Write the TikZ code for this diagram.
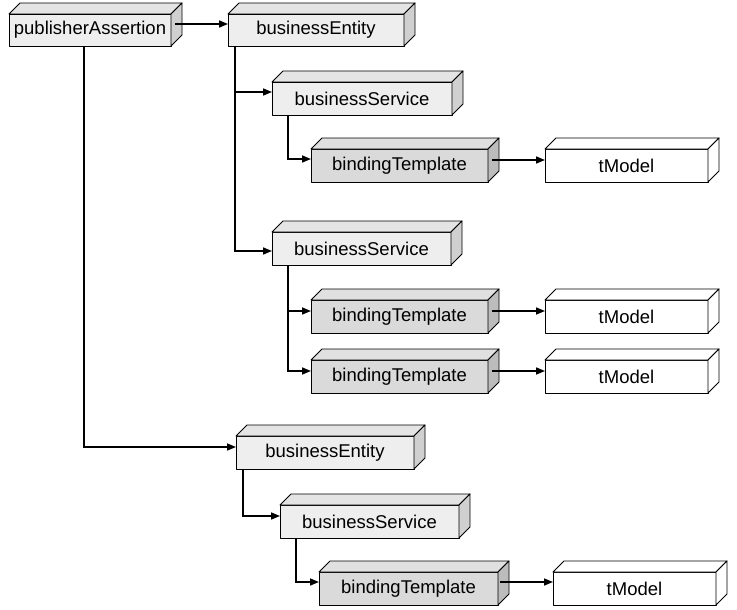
\documentclass[tikz,border=0pt]{standalone}
\usepackage{fontspec}
\setmainfont{Liberation Sans}
\usetikzlibrary{calc,arrows.meta}
\definecolor{lF}{HTML}{EEEEEE}
\definecolor{lT}{HTML}{E4E4E4}
\definecolor{lS}{HTML}{D0D0D0}
\definecolor{dF}{HTML}{DADADA}
\definecolor{dT}{HTML}{E0E0E0}
\definecolor{dS}{HTML}{BCBCBC}
\tikzset{
  box/.style={draw=black, line width=0.9pt, inner sep=0pt, outer sep=0pt,
    font=\fontsize{18.5}{20}\selectfont, line join=round},
  face/.style={draw=black, line width=0.9pt, line join=round},
  conn/.style={line width=1.6pt, -{Triangle[length=9pt,width=7pt]}}
}
\newcommand{\cub}[9]{%
  \node[box,fill=#6,minimum width=#4pt,minimum height=#5pt,anchor=north west] (#1) at (#2,#3) {#9};
  \filldraw[face,fill=#7] (#1.north west) -- ++(11,-11) -- ($(#1.north east)+(11,-11)$) -- (#1.north east) -- cycle;
  \filldraw[face,fill=#8] (#1.north east) -- ++(11,-11) -- ($(#1.south east)+(11,-11)$) -- (#1.south east) -- cycle;
}
\begin{document}
\begin{tikzpicture}[x=1pt,y=-1pt]
\useasboundingbox (0,0) rectangle (737,610);
\cub{pa}{9}{14}{162}{32}{lF}{lT}{lS}{publisherAssertion}
\cub{be1}{228}{14}{176}{32}{lF}{lT}{lS}{businessEntity}
\cub{bs1}{272}{82}{180}{33}{lF}{lT}{lS}{businessService}
\cub{bt1}{311}{149}{177}{33}{dF}{dT}{dS}{bindingTemplate}
\cub{tm1}{545}{149}{163}{33}{white}{white}{white}{tModel}
\cub{bs2}{272}{232}{179}{33}{lF}{lT}{lS}{businessService}
\cub{bt2}{311}{300}{177}{33}{dF}{dT}{dS}{bindingTemplate}
\cub{tm2}{545}{300}{163}{33}{white}{white}{white}{tModel}
\cub{bt3}{311}{360}{177}{33}{dF}{dT}{dS}{bindingTemplate}
\cub{tm3}{545}{360}{163}{33}{white}{white}{white}{tModel}
\cub{be2}{236}{436}{178}{33}{lF}{lT}{lS}{businessEntity}
\cub{bs3}{280}{505}{179}{33}{lF}{lT}{lS}{businessService}
\cub{bt4}{319}{572}{179}{33}{dF}{dT}{dS}{bindingTemplate}
\cub{tm4}{553}{572}{163}{33}{white}{white}{white}{tModel}

\draw[conn] ([xshift=4pt,yshift=-10pt]pa.north east) -- ([yshift=-10pt]be1.north west);
\draw[conn] ([xshift=7pt]be1.south west) |- ([yshift=-10pt]bs1.north west);
\draw[conn] ([xshift=7pt]be1.south west) |- ([yshift=-19pt]bs2.north west);
\draw[conn] ([xshift=16pt]bs1.south west) |- ([yshift=-10pt]bt1.north west);
\draw[conn] ([xshift=4pt,yshift=-11pt]bt1.north east) -- ([yshift=-11pt]tm1.north west);
\draw[conn] ([xshift=16pt]bs2.south west) |- ([yshift=-11pt]bt2.north west);
\draw[conn] ([xshift=16pt]bs2.south west) |- ([yshift=-11pt]bt3.north west);
\draw[conn] ([xshift=4pt,yshift=-11pt]bt2.north east) -- ([yshift=-11pt]tm2.north west);
\draw[conn] ([xshift=4pt,yshift=-11pt]bt3.north east) -- ([yshift=-11pt]tm3.north west);
\draw[conn] ([xshift=75pt]pa.south west) |- ([yshift=-11pt]be2.north west);
\draw[conn] ([xshift=7pt]be2.south west) |- ([yshift=-11pt]bs3.north west);
\draw[conn] ([xshift=16pt]bs3.south west) |- ([yshift=-10pt]bt4.north west);
\draw[conn] ([xshift=2pt,yshift=-10pt]bt4.north east) -- ([yshift=-10pt]tm4.north west);
\end{tikzpicture}
\end{document}
